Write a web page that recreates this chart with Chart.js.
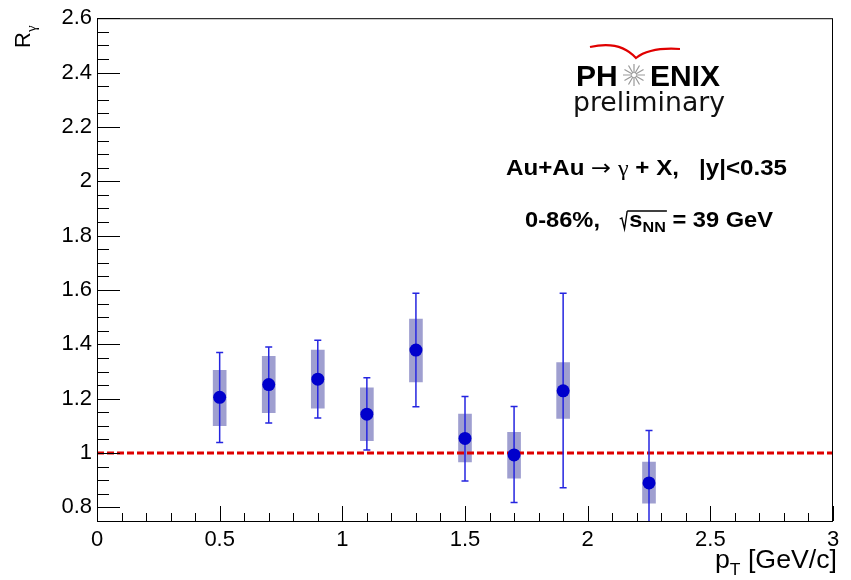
<!DOCTYPE html>
<html>
<head>
<meta charset="utf-8">
<script src="https://cdn.jsdelivr.net/npm/chart.js@4.4.0/dist/chart.umd.min.js"></script>
<style>
  html, body { margin: 0; padding: 0; background: #fff; }
  #wrap { width: 851px; height: 580px; }
</style>
</head>
<body>
<div id="wrap"><canvas id="chart" width="851" height="580"></canvas></div>
<script>
// values
const pt = [0.5, 0.7, 0.9, 1.1, 1.3, 1.5, 1.7, 1.9, 2.25];
const rGamma = [1.205, 1.252, 1.272, 1.143, 1.379, 1.054, 0.993, 1.229, 0.890];
const statLow = [1.039, 1.111, 1.129, 1.011, 1.170, 0.897, 0.818, 0.872, 0.697];
const statHigh = [1.370, 1.390, 1.415, 1.277, 1.588, 1.208, 1.171, 1.588, 1.083];
const sysLow = [1.101, 1.149, 1.165, 1.046, 1.262, 0.967, 0.908, 1.127, 0.816];
const sysHigh = [1.304, 1.356, 1.379, 1.240, 1.493, 1.143, 1.076, 1.333, 0.967];
const refX = [0, 3];
const refY = 1;

const xTicks = [0, 0.5, 1, 1.5, 2, 2.5, 3];
const yTicks = [0.8, 1.0, 1.2, 1.4, 1.6, 1.8, 2.0, 2.2, 2.4, 2.6];
const xMin = 0, xMax = 3, yMin = 0.75, yMax = 2.6;

const FONT = "'Liberation Sans', Arial, sans-serif";

// error bars with caps, drawn just before the markers
const errorBars = {
  id: 'errorBars',
  beforeDatasetDraw(chart, args) {
    if (args.index !== 2) return;
    const { ctx, chartArea: a, scales: { x, y } } = chart;
    ctx.save();
    ctx.beginPath();
    ctx.rect(a.left, a.top, a.right - a.left, a.bottom - a.top);
    ctx.clip();
    ctx.strokeStyle = '#2525e0';
    ctx.lineWidth = 1.5;
    pt.forEach((v, i) => {
      const px = x.getPixelForValue(v);
      const yl = y.getPixelForValue(statLow[i]);
      const yh = y.getPixelForValue(statHigh[i]);
      ctx.beginPath();
      ctx.moveTo(px, yl); ctx.lineTo(px, yh);
      ctx.moveTo(px - 3.5, yl); ctx.lineTo(px + 3.5, yl);
      ctx.moveTo(px - 3.5, yh); ctx.lineTo(px + 3.5, yh);
      ctx.stroke();
    });
    ctx.restore();
  }
};

// ROOT style frame with inward ticks
const frame = {
  id: 'frame',
  afterDatasetsDraw(chart) {
    const { ctx, chartArea: a, scales: { x, y } } = chart;
    ctx.save();
    ctx.strokeStyle = '#000';
    ctx.lineWidth = 1;
    ctx.strokeRect(a.left + 0.5, a.top + 0.5, a.right - a.left - 1, a.bottom - a.top);
    ctx.beginPath();
    for (let k = 0; k <= 30; k++) {
      const v = k * 0.1;
      const px = Math.round(x.getPixelForValue(v)) + 0.5;
      const len = k % 5 === 0 ? 15 : 8;
      ctx.moveTo(px, a.bottom); ctx.lineTo(px, a.bottom - len);
    }
    for (let k = 15; k <= 52; k++) {
      const v = k * 0.05;
      const py = Math.round(y.getPixelForValue(v)) + 0.5;
      const len = k % 4 === 0 ? 23 : 12;
      ctx.moveTo(a.left, py); ctx.lineTo(a.left + len, py);
    }
    ctx.stroke();
    ctx.restore();
  }
};

function runs(ctx, x, y, parts) {
  let cx = x;
  parts.forEach(p => {
    if (p.t) {
      ctx.font = p.font;
      ctx.fillText(p.t, cx, y + (p.dy || 0));
      cx += ctx.measureText(p.t).width;
    }
    if (p.draw) cx = p.draw(cx, y);
  });
  return cx;
}

function runsWidth(ctx, parts) {
  let w = 0;
  parts.forEach(p => {
    if (p.t) { ctx.font = p.font; w += ctx.measureText(p.t).width; }
    if (p.w) w += p.w;
  });
  return w;
}

// draw text runs stretched horizontally so they span x0..x1 like the original
function fitRuns(ctx, x0, x1, y, parts) {
  const k = (x1 - x0) / runsWidth(ctx, parts);
  ctx.save();
  ctx.translate(x0, y);
  ctx.scale(k, 1);
  runs(ctx, 0, 0, parts);
  ctx.restore();
}

const labels = {
  id: 'labels',
  afterDraw(chart) {
    const ctx = chart.ctx;
    ctx.save();
    ctx.fillStyle = '#000';
    ctx.strokeStyle = '#000';
    ctx.textBaseline = 'alphabetic';
    ctx.textAlign = 'left';

    // y title
    ctx.save();
    ctx.translate(30, 48);
    ctx.rotate(-Math.PI / 2);
    runs(ctx, 0, 0, [
      { t: 'R', font: '22px ' + FONT },
      { t: 'γ', font: "15px 'Liberation Serif', serif", dy: 6 }
    ]);
    ctx.restore();

    // x title
    fitRuns(ctx, 715, 837, 568, [
      { t: 'p', font: '26px ' + FONT },
      { t: 'T', font: '17px ' + FONT, dy: 7 },
      { t: ' [GeV/c]', font: '26px ' + FONT }
    ]);

    // PHENIX logo
    ctx.font = 'bold 30px ' + FONT;
    ctx.fillText('PH', 576, 86);
    ctx.fillText('ENIX', 650, 86);
    ctx.strokeStyle = '#999';
    ctx.lineWidth = 1.2;
    ctx.beginPath();
    for (let k = 0; k < 12; k++) {
      const ang = k * Math.PI / 6;
      ctx.moveTo(634 + 2 * Math.cos(ang), 75 + 2 * Math.sin(ang));
      ctx.lineTo(634 + 11 * Math.cos(ang), 75 + 11 * Math.sin(ang));
    }
    ctx.stroke();
    ctx.strokeStyle = '#e00000';
    ctx.lineWidth = 2.2;
    ctx.beginPath();
    ctx.moveTo(590, 47);
    ctx.quadraticCurveTo(620, 40, 636, 58);
    ctx.quadraticCurveTo(650, 47, 680, 49);
    ctx.stroke();
    ctx.fillStyle = '#111';
    fitRuns(ctx, 573, 725, 111, [{ t: 'preliminary', font: "26px 'DejaVu Sans', sans-serif" }]);
    ctx.fillStyle = '#000';

    // reaction text
    const B = 'bold 22px ' + FONT;
    fitRuns(ctx, 506, 787, 175, [
      { t: 'Au+Au ', font: B },
      { t: '→', font: "22px 'DejaVu Sans', sans-serif" },
      { t: ' ', font: B },
      { t: 'γ', font: "22px 'Liberation Serif', serif" },
      { t: ' + X,   |y|<0.35', font: B }
    ]);

    const SUB = 'bold 15px ' + FONT;
    ctx.strokeStyle = '#000';
    ctx.lineWidth = 1.3;
    fitRuns(ctx, 525, 773, 227, [
      { t: '0-86%,   ', font: B },
      { w: 9, draw: (cx, by) => {
          ctx.beginPath();
          ctx.moveTo(cx, by - 8);
          ctx.lineTo(cx + 2, by - 9);
          ctx.lineTo(cx + 4.5, by + 2);
          ctx.lineTo(cx + 7, by - 16);
          ctx.stroke();
          return cx + 9;
        } },
      { t: 's', font: B },
      { t: 'NN', font: SUB, dy: 5 },
      { w: 0, draw: (cx, by) => {
          ctx.font = B;
          const w = ctx.measureText('s').width;
          ctx.font = SUB;
          const start = cx - ctx.measureText('NN').width - w - 2;
          ctx.beginPath();
          ctx.moveTo(start, by - 16);
          ctx.lineTo(cx + 1, by - 16);
          ctx.stroke();
          return cx;
        } },
      { t: ' = 39 GeV', font: B }
    ]);
    ctx.restore();
  }
};

new Chart(document.getElementById('chart'), {
  type: 'scatter',
  data: {
    datasets: [
      {
        type: 'bar',
        data: pt.map((v, i) => ({ x: v, y: [sysLow[i], sysHigh[i]] })),
        backgroundColor: 'rgba(80, 80, 170, 0.55)',
        borderWidth: 0,
        barThickness: 13,
        grouped: false,
        order: 3
      },
      {
        type: 'line',
        data: refX.map(v => ({ x: v, y: refY })),
        borderColor: '#dd0000',
        borderWidth: 3,
        borderDash: [7, 3],
        pointRadius: 0,
        order: 2
      },
      {
        data: pt.map((v, i) => ({ x: v, y: rGamma[i] })),
        backgroundColor: '#0000cc',
        borderWidth: 0,
        pointRadius: 6.5,
        order: 1
      }
    ]
  },
  options: {
    responsive: false,
    animation: false,
    devicePixelRatio: 1,
    layout: { padding: { left: 0, top: 18, right: 18, bottom: 0 } },
    plugins: { legend: { display: false }, tooltip: { enabled: false } },
    scales: {
      x: {
        type: 'linear',
        min: xMin, max: xMax,
        offset: false,
        grid: { display: false, drawTicks: false, offset: false },
        border: { display: false },
        afterBuildTicks: s => { s.ticks = xTicks.map(v => ({ value: v })); },
        afterFit: s => { s.height = 59; },
        ticks: {
          padding: 6,
          color: '#000',
          font: { family: FONT, size: 22 },
          callback: v => String(v)
        }
      },
      y: {
        type: 'linear',
        min: yMin, max: yMax,
        grid: { display: false, drawTicks: false },
        border: { display: false },
        afterBuildTicks: s => { s.ticks = yTicks.map(v => ({ value: v })); },
        afterFit: s => { s.width = 97; },
        ticks: {
          padding: 5,
          color: '#000',
          font: { family: FONT, size: 22 },
          callback: v => String(+v.toFixed(1))
        }
      }
    }
  },
  plugins: [errorBars, frame, labels]
});
</script>
</body>
</html>
